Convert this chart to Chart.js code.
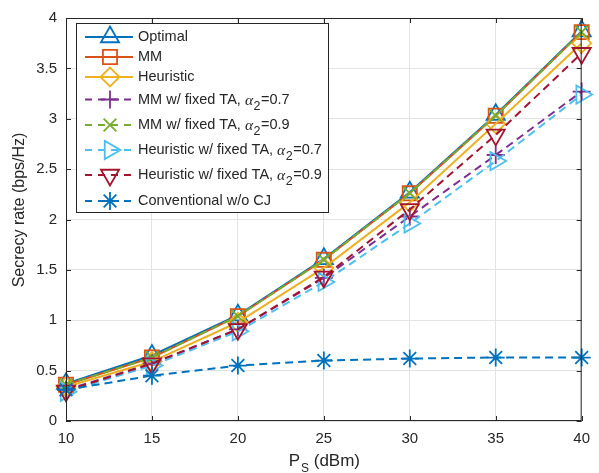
<!DOCTYPE html>
<html>
<head>
<meta charset="utf-8">
<script src="https://cdn.jsdelivr.net/npm/chart.js@4.4.0/dist/chart.umd.min.js"></script>
<style>
    html, body { margin: 0; padding: 0; background: #fff; }
</style>
</head>
<body>
<canvas id="chart" width="599" height="473"></canvas>
<script>
// Data
const powerDbm = [10, 15, 20, 25, 30, 35, 40];
const optimal = [0.37, 0.65, 1.05, 1.61, 2.27, 3.04, 3.87];
const mm = [0.36, 0.63, 1.04, 1.60, 2.26, 3.03, 3.86];
const heuristic = [0.34, 0.59, 0.98, 1.52, 2.17, 2.95, 3.75];
const mmFixed07 = [0.31, 0.57, 0.91, 1.42, 2.03, 2.64, 3.27];
const mmFixed09 = [0.36, 0.63, 1.04, 1.60, 2.26, 3.03, 3.86];
const heurFixed07 = [0.29, 0.55, 0.89, 1.38, 1.96, 2.58, 3.24];
const heurFixed09 = [0.30, 0.57, 0.91, 1.43, 2.10, 2.84, 3.65];
const conventional = [0.31, 0.45, 0.55, 0.60, 0.62, 0.63, 0.63];

const seriesNames = [
    'Optimal',
    'MM',
    'Heuristic',
    'MM w/ fixed TA, α_2=0.7',
    'MM w/ fixed TA, α_2=0.9',
    'Heuristic w/ fixed TA, α_2=0.7',
    'Heuristic w/ fixed TA, α_2=0.9',
    'Conventional w/o CJ'
];
const yTicks = [0, 0.5, 1, 1.5, 2, 2.5, 3, 3.5, 4];
const xTicks = [10, 15, 20, 25, 30, 35, 40];

const FONT = 'Liberation Sans, Arial, sans-serif';
const TEXT = '#262626';

// styles per series (matlab default colour order)
const styles = [
    { color: '#0072BD', point: 'triangle', rot: 0, r: 10.5, dash: [] },
    { color: '#D95319', point: 'rect', rot: 0, r: 10, dash: [] },
    { color: '#EDB120', point: 'rectRot', rot: 0, r: 9.5, dash: [] },
    { color: '#7E2F8E', point: 'cross', rot: 0, r: 9, dash: [8, 5] },
    { color: '#77AC30', point: 'crossRot', rot: 0, r: 9, dash: [8, 5] },
    { color: '#4DBEEE', point: 'triangle', rot: 90, r: 10.5, dash: [8, 5] },
    { color: '#A2142F', point: 'triangle', rot: 180, r: 10.5, dash: [8, 5] },
    { color: '#0072BD', point: 'star', rot: 0, r: 9, dash: [8, 5] }
];
const values = [optimal, mm, heuristic, mmFixed07, mmFixed09, heurFixed07, heurFixed09, conventional];

const datasets = values.map((vals, i) => ({
    label: seriesNames[i],
    data: vals.map((v, k) => ({ x: powerDbm[k], y: v })),
    borderColor: styles[i].color,
    backgroundColor: 'rgba(0,0,0,0)',
    borderWidth: 2,
    borderDash: styles[i].dash,
    pointStyle: styles[i].point,
    pointRotation: styles[i].rot,
    pointRadius: styles[i].r,
    pointBorderWidth: 1.8,
    pointBackgroundColor: 'rgba(0,0,0,0)',
    pointBorderColor: styles[i].color,
    tension: 0,
    clip: false,
    order: values.length - i
}));

// draws text with "α_2" as italic alpha + subscript 2
function drawRichText(ctx, text, x, y, size) {
    const parts = text.split('α_2');
    ctx.textBaseline = 'middle';
    ctx.textAlign = 'left';
    let cx = x;
    parts.forEach((p, idx) => {
        ctx.font = size + 'px ' + FONT;
        ctx.fillText(p, cx, y);
        cx += ctx.measureText(p).width;
        if (idx < parts.length - 1) {
            ctx.font = 'italic ' + (size + 1) + 'px "Liberation Serif", "Times New Roman", serif';
            ctx.fillText('α', cx, y + 1);
            cx += ctx.measureText('α').width;
            ctx.font = (size - 2) + 'px ' + FONT;
            ctx.fillText('2', cx + 0.5, y + 7);
            cx += ctx.measureText('2').width + 1;
        }
    });
    return cx - x;
}

const matlabFrame = {
    id: 'matlabFrame',
    afterDraw(chart) {
        const ctx = chart.ctx;
        const a = chart.chartArea;
        const xs = chart.scales.x;
        const ys = chart.scales.y;
        ctx.save();

        // axis box and inward ticks
        ctx.strokeStyle = TEXT;
        ctx.lineWidth = 1;
        ctx.setLineDash([]);
        ctx.strokeRect(a.left + 0.5, a.top + 0.5, a.right - a.left - 1, a.bottom - a.top - 1);
        ctx.beginPath();
        xTicks.forEach(t => {
            const px = Math.round(xs.getPixelForValue(t)) + 0.5;
            ctx.moveTo(px, a.bottom); ctx.lineTo(px, a.bottom - 5);
            ctx.moveTo(px, a.top); ctx.lineTo(px, a.top + 5);
        });
        yTicks.forEach(t => {
            const py = Math.round(ys.getPixelForValue(t)) + 0.5;
            ctx.moveTo(a.left, py); ctx.lineTo(a.left + 5, py);
            ctx.moveTo(a.right, py); ctx.lineTo(a.right - 5, py);
        });
        ctx.stroke();

        // x axis title with subscript
        ctx.fillStyle = TEXT;
        ctx.textBaseline = 'alphabetic';
        ctx.textAlign = 'left';
        ctx.font = '17px ' + FONT;
        const wP = ctx.measureText('P').width;
        const wRest = ctx.measureText(' (dBm)').width;
        ctx.font = '12px ' + FONT;
        const wS = ctx.measureText('S').width;
        const tx = (a.left + a.right) / 2 - (wP + wS + wRest) / 2;
        ctx.font = '17px ' + FONT;
        ctx.fillText('P', tx, 466);
        ctx.font = '12px ' + FONT;
        ctx.fillText('S', tx + wP + 1, 472);
        ctx.font = '17px ' + FONT;
        ctx.fillText(' (dBm)', tx + wP + wS + 1, 466);

        // y axis title
        ctx.save();
        ctx.translate(20, 210);
        ctx.rotate(-Math.PI / 2);
        ctx.textAlign = 'center';
        ctx.textBaseline = 'middle';
        ctx.font = '16px ' + FONT;
        ctx.fillText('Secrecy rate (bps/Hz)', 0, 0);
        ctx.restore();

        // legend box (inside axes, top-left)
        const lx = 76, ly = 23, lw = 252, lh = 189;
        const rowY = [37, 57, 77, 99.5, 125, 150, 175, 201];
        ctx.fillStyle = '#fff';
        ctx.fillRect(lx, ly, lw, lh);
        ctx.strokeStyle = TEXT;
        ctx.lineWidth = 1;
        ctx.strokeRect(lx + 0.5, ly + 0.5, lw, lh);
        seriesNames.forEach((name, i) => {
            const st = styles[i];
            const y = rowY[i];
            ctx.strokeStyle = st.color;
            ctx.lineWidth = 2;
            ctx.setLineDash(st.dash.length ? [7, 6] : []);
            ctx.beginPath();
            ctx.moveTo(lx + 9, y);
            ctx.lineTo(lx + 57, y);
            ctx.stroke();
            ctx.setLineDash([]);
            ctx.fillStyle = 'rgba(0,0,0,0)';
            ctx.lineWidth = 1.8;
            Chart.helpers.drawPoint(ctx, {
                pointStyle: st.point,
                rotation: st.rot,
                radius: st.r,
                borderWidth: 1.8
            }, lx + 34, y);
            ctx.fillStyle = TEXT;
            drawRichText(ctx, name, lx + 62, y, 14.5);
        });
        ctx.restore();
    }
};

new Chart(document.getElementById('chart'), {
    type: 'line',
    data: { datasets: datasets },
    options: {
        responsive: false,
        animation: false,
        devicePixelRatio: 1,
        layout: { padding: { top: 15, right: 13, left: 0, bottom: 0 } },
        plugins: {
            legend: { display: false },
            tooltip: { enabled: false }
        },
        scales: {
            x: {
                type: 'linear',
                min: 10,
                max: 40,
                afterFit: scale => { scale.height = 52; },
                afterBuildTicks: scale => { scale.ticks = xTicks.map(v => ({ value: v })); },
                grid: { color: '#e3e3e3', drawTicks: false },
                border: { display: false },
                ticks: { color: TEXT, font: { family: FONT, size: 15 }, padding: 9, maxRotation: 0,
                    callback: v => String(v) }
            },
            y: {
                type: 'linear',
                min: 0,
                max: 4,
                afterFit: scale => { scale.width = 66; },
                afterBuildTicks: scale => { scale.ticks = yTicks.map(v => ({ value: v })); },
                grid: { color: '#e3e3e3', drawTicks: false },
                border: { display: false },
                ticks: { color: TEXT, font: { family: FONT, size: 15 }, padding: 9,
                    callback: v => String(v) }
            }
        }
    },
    plugins: [matlabFrame]
});
</script>
</body>
</html>
